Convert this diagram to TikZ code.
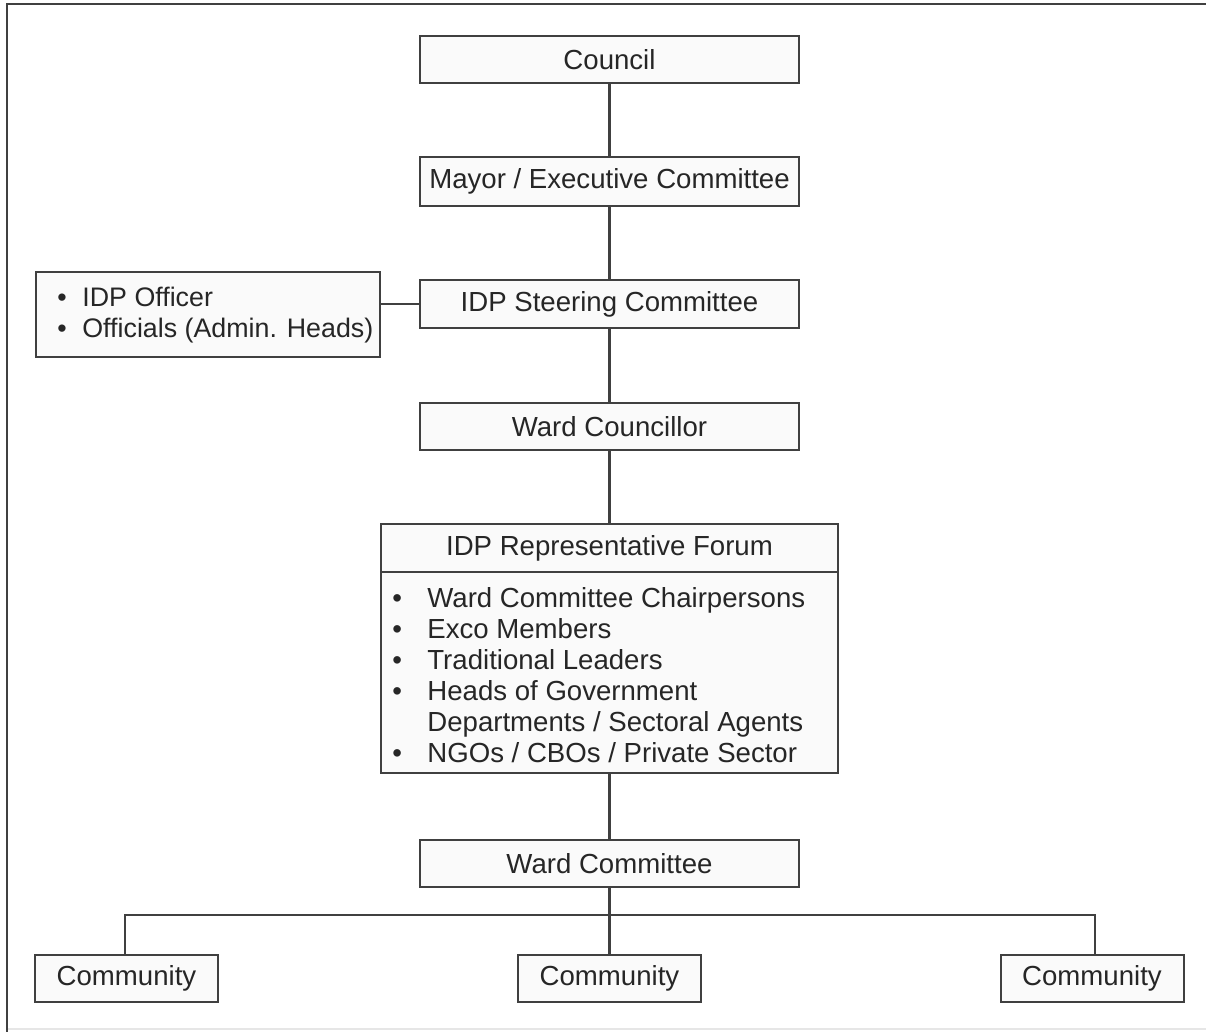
\documentclass[tikz,border=0pt]{standalone}
\usepackage{fontspec}
\setmainfont{Liberation Sans}
\definecolor{linec}{HTML}{404040}
\definecolor{boxfill}{HTML}{FAFAFA}
\definecolor{txt}{HTML}{262626}
\definecolor{frameb}{HTML}{E6E6E6}
\newcommand{\bulA}{\makebox[17.5pt][l]{\textbullet}}
\newcommand{\bulB}{\makebox[12.5pt][l]{\textbullet}}
\begin{document}
\begin{tikzpicture}[x=0.5pt,y=-0.5pt,
  every node/.style={text=txt, font=\fontsize{13.8}{15.5}\selectfont},
  box/.style={draw=linec, line width=1pt, fill=boxfill, inner sep=0pt, align=center},
  wbox/.style={box, minimum width=189.5pt, minimum height=23.75pt},
  cbox/.style={box, minimum width=91.5pt, minimum height=23.5pt},
  conn/.style={draw=linec, line width=1.05pt},
  lst/.style={inner sep=0pt, align=left, anchor=west}]
\useasboundingbox (0,0) rectangle (1206,1032);
\fill[white] (0,0) rectangle (1206,1032);
% frame
\draw[linec, line width=1pt] (7,1032) -- (7,4) -- (1206,4);
\draw[frameb, line width=0.8pt] (8,1029) -- (1206,1029);
% boxes
\node[wbox] (council) at (609.5,59.5) {Council};
\node[wbox, minimum height=24.5pt] (mayor) at (609.5,181.5) {Mayor / Executive Committee};
\node[wbox, minimum height=24pt] (steer) at (609.5,304) {IDP Steering Committee};
\node[wbox] (wcouncillor) at (609.5,426.5) {Ward Councillor};
\node[box, minimum width=228.5pt, minimum height=24pt] (forum) at (609.5,548) {IDP Representative Forum};
\node[box, minimum width=228.5pt, minimum height=100.5pt] (forumlist) at (609.5,672.5) {};
\node[lst] (forumtext) at (392,675.5) {\bulA Ward Committee Chairpersons\\
\bulA Exco Members\\
\bulA Traditional Leaders\\
\bulA Heads of Government\\
\hspace*{17.5pt}Departments / Sectoral Agents\\
\bulA NGOs / CBOs / Private Sector};
\node[box, minimum width=172pt, minimum height=42.5pt] (officers) at (208,314.5) {};
\node[lst, font=\fontsize{13.4}{15.5}\selectfont] (officerstext) at (57,315.5) {\bulB IDP Officer\\
\bulB Officials (Admin. Heads)};
\node[wbox] (wcommittee) at (609.5,863.5) {Ward Committee};
\node[cbox] (comA) at (126.5,978.5) {Community};
\node[cbox] (comB) at (609.5,978.5) {Community};
\node[cbox] (comC) at (1092,978.5) {Community};
\coordinate (bus) at (609.5,915);
% connectors
\draw[conn] (council) -- (mayor);
\draw[conn] (mayor) -- (steer);
\draw[conn] (steer) -- (wcouncillor);
\draw[conn] (wcouncillor) -- (forum);
\draw[conn] (forumlist) -- (wcommittee);
\draw[conn] (officers.east |- steer.west) -- (steer.west);
\draw[conn] (wcommittee) -- (comB);
\draw[conn] ([xshift=-1.5*0.5pt]comA.north) |- (bus) -| ([xshift=3*0.5pt]comC.north);
\end{tikzpicture}
\end{document}
